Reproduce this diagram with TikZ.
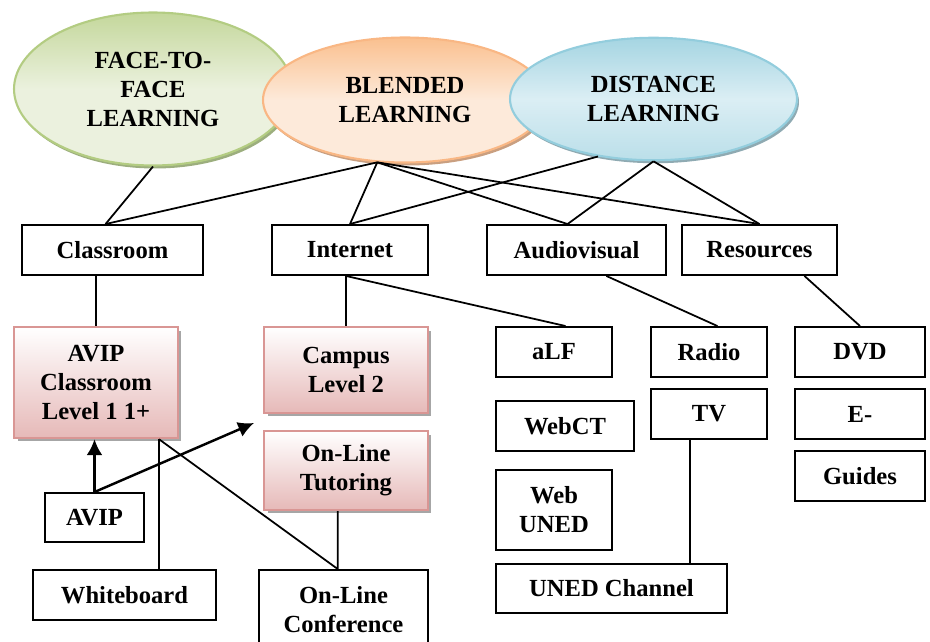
\documentclass[tikz,border=0pt]{standalone}
\usepackage{fontspec}
\setmainfont{Liberation Serif}
\usetikzlibrary{shapes.geometric,shadows,arrows.meta}

\definecolor{greenlight}{HTML}{EBF1DE}
\definecolor{greendark}{HTML}{C4D79B}
\definecolor{greenline}{HTML}{B3CC82}
\definecolor{greenshadow}{HTML}{9CAE7E}
\definecolor{orangelight}{HTML}{FDEADA}
\definecolor{orangedark}{HTML}{FAC08F}
\definecolor{orangeline}{HTML}{F9B784}
\definecolor{orangeshadow}{HTML}{C99F80}
\definecolor{bluelight}{HTML}{DBEEF4}
\definecolor{bluedark}{HTML}{A5D5E2}
\definecolor{blueline}{HTML}{93CDDD}
\definecolor{blueshadow}{HTML}{8FAAB2}
\definecolor{pinkdark}{HTML}{E6B9B8}
\definecolor{pinkline}{HTML}{D99694}

\tikzset{
  bubble/.style={ellipse, inner sep=0pt, align=center, line width=1.2pt, shading angle=-45,
    drop shadow={shadow xshift=0.04cm, shadow yshift=-0.06cm, fill=#1, opacity=1}},
  box/.style={rectangle, draw, line width=1.1pt, align=center, inner sep=2pt, fill=white},
  pinkbox/.style={box, draw=pinkline, top color=white, bottom color=pinkdark, line width=1.4pt,
    drop shadow={shadow xshift=0.07cm, shadow yshift=-0.07cm, fill=black!35, opacity=1}},
  link/.style={line width=1pt},
}

\begin{document}
\begin{tikzpicture}[x=0.02cm, y=-0.02cm, font=\fontsize{14}{16.5}\selectfont\bfseries]
        \clip (0,0) rectangle (930,642);

        % Ways of learning
        \node[bubble=greenshadow, draw=greenline, top color=greendark, bottom color=greenlight, middle color=greenlight, minimum width=5.56cm, minimum height=3.06cm] (f2f) at (153,89) {FACE-TO-\\FACE\\LEARNING};
        \node[bubble=orangeshadow, draw=orangeline, top color=orangedark, bottom color=orangelight, middle color=orangelight, minimum width=5.68cm, minimum height=2.5cm] (blended) at (405,100) {BLENDED\\LEARNING};
        \node[bubble=blueshadow, draw=blueline, top color=bluedark, bottom color=bluedark!60!bluelight, middle color=bluelight, minimum width=5.74cm, minimum height=2.45cm] (distance) at (653.5,99) {DISTANCE\\LEARNING};

        % Media
        \node[box, minimum width=3.62cm, minimum height=1cm] (classroom) at (112.5,250) {Classroom};
        \node[box, minimum width=3.12cm, minimum height=1cm] (internet) at (350,250) {Internet};
        \node[box, minimum width=3.58cm, minimum height=1cm] (audiovisual) at (576.5,250) {Audiovisual};
        \node[box, minimum width=3.1cm, minimum height=1cm] (resources) at (759.5,250) {Resources};

        \draw[link] (f2f.south) -- (classroom.105);
        \draw[link] (blended.246) -- (classroom.105);
        \draw[link] (blended.246) -- (internet.north);
        \draw[link] (blended.246) -- (audiovisual.109);
        \draw[link] (blended.246) -- (resources.north);
        \draw[link] (distance.226) -- (internet.north);
        \draw[link] (distance.south) -- (audiovisual.109);
        \draw[link] (distance.south) -- (resources.north);

        % Classroom side
        \node[pinkbox, minimum width=3.28cm, minimum height=2.22cm] (avipclass) at (96,382.5) {AVIP\\Classroom\\Level 1 1+};
        \node[pinkbox, minimum width=3.28cm, minimum height=1.72cm] (campus) at (346,370) {Campus\\Level 2};
        \node[pinkbox, minimum width=3.28cm, minimum height=1.58cm] (tutoring) at (346,470.5) {On-Line\\Tutoring};
        \node[box, minimum width=1.98cm, minimum height=0.98cm] (avip) at (94.5,517.5) {AVIP};
        \node[box, minimum width=3.66cm, minimum height=1cm] (whiteboard) at (124.5,595) {Whiteboard};
        \node[box, minimum width=3.38cm, minimum height=1.6cm] (conference) at (343.5,610) {On-Line\\Conference};
        \coordinate (campustip) at (254,423);

        \draw[link] (avipclass.north |- classroom.south) -- (avipclass.north);
        \draw[link] (campus.north |- internet.south) -- (campus.north);
        \draw[link] (avipclass.318) -- (avipclass.318 |- whiteboard.north);
        \draw[link] (avipclass.318) -- (conference.98) -- (conference.98 |- tutoring.south);
        \draw[-{Latex[length=9pt,width=9pt]}, line width=1.4pt] (avip.north) -- (avip.north |- avipclass.south);
        \draw[-{Latex[length=9pt,width=9pt]}, line width=1.4pt] (avip.north) -- (campustip);

        % Distance side
        \node[box, minimum width=2.32cm, minimum height=1cm] (alf) at (554,352) {aLF};
        \node[box, minimum width=2.76cm, minimum height=1cm] (webct) at (565,426) {WebCT};
        \node[box, minimum width=2.32cm, minimum height=1.6cm] (webuned) at (554,510) {Web\\UNED};
        \node[box, minimum width=2.32cm, minimum height=1cm] (radio) at (709,352) {Radio};
        \node[box, minimum width=2.32cm, minimum height=1cm] (tv) at (709,414) {TV};
        \node[box, minimum width=4.62cm, minimum height=0.98cm] (channel) at (611.5,588.5) {UNED Channel};
        \node[box, minimum width=2.6cm, minimum height=1cm] (dvd) at (860,352) {DVD};
        \node[box, minimum width=2.6cm, minimum height=1cm] (eguides) at (860,414) {E-};
        \node[box, minimum width=2.6cm, minimum height=1cm] (guides) at (860,476) {Guides};

        \draw[link] (campus.north |- internet.south) -- (alf.66);
        \draw[link] (audiovisual.319) -- (radio.72);
        \draw[link] (resources.330) -- (dvd.north);
        \draw[link] (tv.234) -- (tv.234 |- channel.north);
\end{tikzpicture}
\end{document}
